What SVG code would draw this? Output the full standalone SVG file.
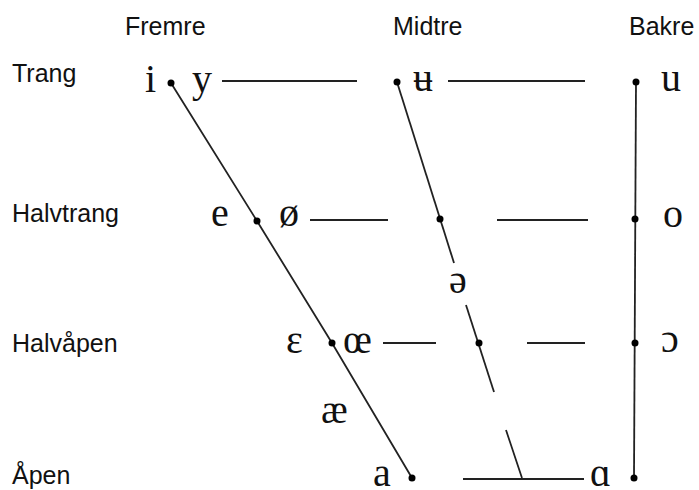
<svg xmlns="http://www.w3.org/2000/svg" width="699" height="490" viewBox="0 0 699 490">
<style>
.lab{font-family:"Liberation Sans",Arial,sans-serif;font-size:25px;fill:#111}
.v{font-family:"Liberation Serif","Times New Roman",serif;font-size:40px;fill:#111}
.ln{stroke:#222;stroke-width:1.8;fill:none}
.dot{fill:#000}
</style>
<rect width="699" height="490" fill="#fff"/>
<g id="labels">
<text class="lab" x="125" y="35">Fremre</text>
<text class="lab" x="393" y="35">Midtre</text>
<text class="lab" x="629" y="35">Bakre</text>
<text class="lab" x="12" y="82">Trang</text>
<text class="lab" x="12" y="222">Halvtrang</text>
<text class="lab" x="12" y="352">Halvåpen</text>
<text class="lab" x="12" y="484">Åpen</text>
</g>
<g id="connectors">
<polyline class="ln" points="171,83 257,221 332,343 412,478"/>
<line class="ln" x1="397" y1="82" x2="454" y2="263"/>
<line class="ln" x1="466" y1="305" x2="494" y2="392"/>
<line class="ln" x1="506" y1="430" x2="522" y2="478"/>
<line class="ln" x1="636" y1="82" x2="634" y2="478"/>
<line class="ln" x1="222" y1="81" x2="357" y2="81"/>
<line class="ln" x1="448" y1="81" x2="585" y2="81"/>
<line class="ln" x1="310" y1="220" x2="388" y2="220"/>
<line class="ln" x1="497" y1="220" x2="588" y2="220"/>
<line class="ln" x1="383" y1="343" x2="436" y2="343"/>
<line class="ln" x1="527" y1="343" x2="585" y2="343"/>
<line class="ln" x1="463" y1="479" x2="584" y2="479"/>
</g>
<g id="node-i"><circle class="dot" cx="171" cy="83" r="3.5"/><text class="v" x="145" y="92">i</text></g>
<g id="node-y"><text class="v" x="192" y="92">y</text></g>
<g id="node-u-bar"><circle class="dot" cx="397" cy="82" r="3.5"/><text class="v" x="413" y="91">ʉ</text></g>
<g id="node-u"><circle class="dot" cx="636" cy="82" r="3.5"/><text class="v" x="661" y="91">u</text></g>
<g id="node-e"><circle class="dot" cx="257" cy="221" r="3.5"/><text class="v" x="211" y="226">e</text></g>
<g id="node-oe-slash"><text class="v" x="279" y="226">ø</text></g>
<g id="node-mid-halvtrang"><circle class="dot" cx="440" cy="219" r="3.5"/></g>
<g id="node-o"><circle class="dot" cx="635" cy="219" r="3.5"/><text class="v" x="663" y="227">o</text></g>
<g id="node-schwa"><text class="v" x="449" y="293">ə</text></g>
<g id="node-epsilon"><circle class="dot" cx="332" cy="343" r="3.5"/><text class="v" x="286" y="353">ε</text></g>
<g id="node-oe"><text class="v" x="343" y="353">œ</text></g>
<g id="node-mid-halvapen"><circle class="dot" cx="479" cy="343" r="3.5"/></g>
<g id="node-open-o"><circle class="dot" cx="635" cy="343" r="3.5"/><text class="v" x="661" y="352">ɔ</text></g>
<g id="node-ae"><text class="v" x="321" y="423">æ</text></g>
<g id="node-a"><circle class="dot" cx="412" cy="478" r="3.5"/><text class="v" x="373" y="486">a</text></g>
<g id="node-alpha"><circle class="dot" cx="634" cy="478" r="3.5"/><text class="v" x="590" y="486">ɑ</text></g>
</svg>
